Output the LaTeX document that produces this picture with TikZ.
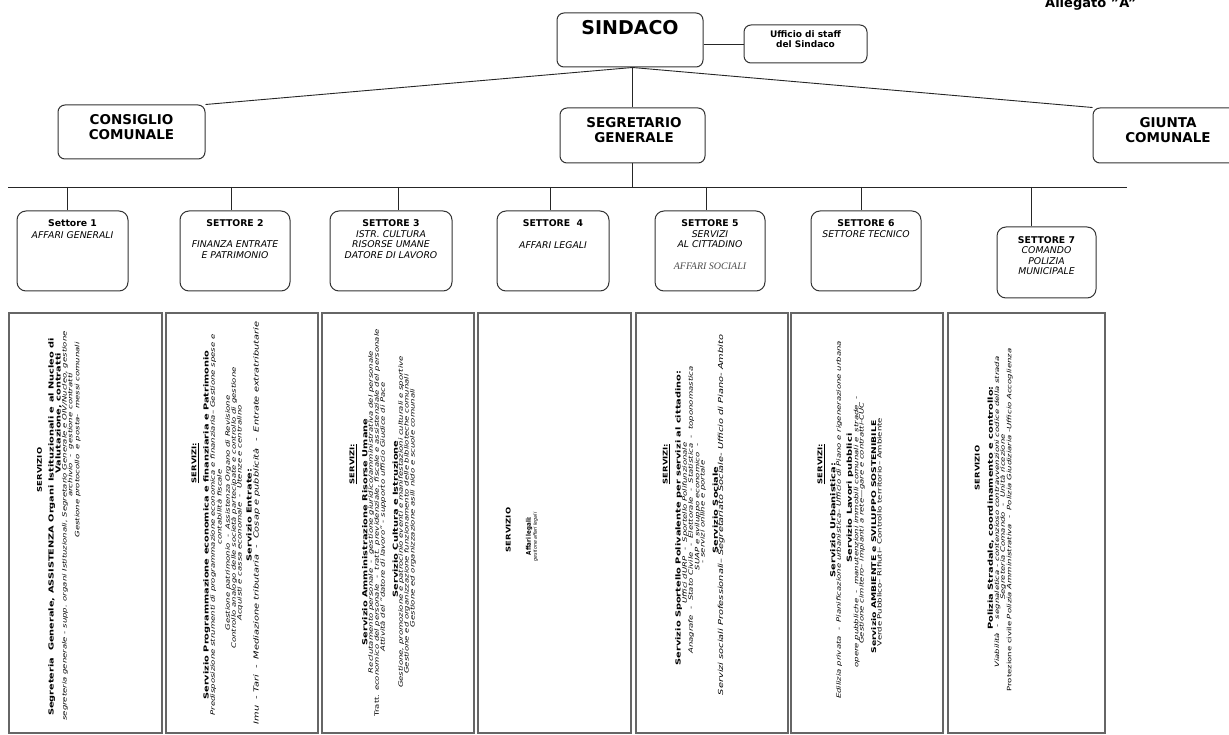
\documentclass[tikz,border=0pt]{standalone}
\usepackage{fontspec}
\setmainfont{DejaVu Sans}
\newfontfamily\serifit{Liberation Serif}
\usepackage{graphicx}
\newcommand{\Sx}[1]{\scalebox{1.42}[1]{#1}}
\newcommand{\Sh}[1]{\scalebox{1.3}[1]{#1}}
\begin{document}
\begin{tikzpicture}[x=1pt,y=-1pt,
  topbox/.style={draw=black!80, line width=1pt, rounded corners=7pt, inner sep=0pt},
  topfont/.style={font=\fontsize{13.5}{15}\selectfont\bfseries, align=center, inner sep=0pt},
  setbox/.style={draw=black!80, line width=1pt, rounded corners=9pt, inner sep=0pt},
  settext/.style={font=\fontsize{9.3}{10.5}\selectfont, align=center, inner sep=0pt, anchor=north},
  svbox/.style={draw=black!60, line width=1.3pt, inner sep=0pt, minimum height=420pt},
  conn/.style={draw=black!85, line width=0.9pt},
  rl/.style={rotate=90, inner sep=0pt, anchor=center},
  hd/.style={rl, font=\fontsize{6.5}{7}\selectfont\bfseries},
  tt/.style={rl, font=\fontsize{6.9}{7.5}\selectfont\bfseries},
  det/.style={rl, font=\fontsize{6}{7}\selectfont\itshape},
  big/.style={rl, font=\fontsize{6.9}{7.5}\selectfont\itshape},
  up/.style={rl, font=\fontsize{6}{7}\selectfont}
]
\useasboundingbox (0,0) rectangle (1229,735);
\clip (0,0) rectangle (1229,735);
\fill[white] (0,0) rectangle (1229,735);

% ---------- top level ----------
\node[font=\fontsize{13}{14}\selectfont\bfseries, anchor=base west, inner sep=0pt] (alleg) at (1045,7.5) {Allegato "A"};

\node[topbox, minimum width=146pt, minimum height=54pt] (sind) at (630,40) {};
\node[font=\fontsize{19}{20}\selectfont\bfseries, inner sep=0pt] (sindt) at (630,28) {SINDACO};
\node[topbox, minimum width=123pt, minimum height=38pt] (uff) at (805.5,44) {};
\node[font=\fontsize{9}{9.5}\selectfont\bfseries, align=center, inner sep=0pt] (ufft) at (805.5,39) {Ufficio di staff\\del Sindaco};

\node[topbox, minimum width=147pt, minimum height=54pt] (cons) at (131.5,132) {};
\node[topfont] (const) at (131.5,127.5) {CONSIGLIO\\COMUNALE};
\node[topbox, minimum width=145pt, minimum height=55pt] (segr) at (632.5,135.5) {};
\node[topfont] (segrt) at (634,130.5) {SEGRETARIO\\GENERALE};
\node[topbox, minimum width=157pt, minimum height=55pt] (giun) at (1171.5,135.5) {};
\node[topfont] (giunt) at (1168,130.5) {GIUNTA\\COMUNALE};

\draw[conn] (sind.east |- uff.west) -- (uff.west);
\draw[conn] (sind.south -| segr.north) -- (cons.north east);
\draw[conn] (sind.south -| segr.north) -- (giun.north west);
\draw[conn] (sind.south -| segr.north) -- (segr.north);

\coordinate (busL) at (8,187);
\coordinate (busR) at (1127,187);
\draw[conn] (busL) -- (busR);
\draw[conn] (segr.south) -- (segr.south |- busL);

% ---------- settori ----------
\node[setbox, minimum width=111pt, minimum height=80pt] (s1) at (72.5,251) {};
\node[setbox, minimum width=110pt, minimum height=80pt] (s2) at (235,251) {};
\node[setbox, minimum width=122pt, minimum height=80pt] (s3) at (391,251) {};
\node[setbox, minimum width=112pt, minimum height=80pt] (s4) at (553,251) {};
\node[setbox, minimum width=110pt, minimum height=80pt] (s5) at (710,251) {};
\node[setbox, minimum width=110pt, minimum height=80pt] (s6) at (866,251) {};
\node[setbox, minimum width=99pt, minimum height=71pt] (s7) at (1046.5,262.5) {};

\node[settext] (s1t) at (72.5,219.5) {\textbf{Settore 1}\\[1pt]\textit{AFFARI GENERALI}};
\node[settext] (s2t) at (235,219.5) {\textbf{SETTORE 2}\\[10.5pt]\textit{FINANZA ENTRATE}\\\textit{E PATRIMONIO}};
\node[settext] (s3t) at (391,219.5) {\textbf{SETTORE 3}\\\textit{ISTR. CULTURA}\\\textit{RISORSE UMANE}\\\textit{DATORE DI LAVORO}};
\node[settext] (s4t) at (553,219.5) {\textbf{SETTORE\ \ 4}\\[11pt]\textit{AFFARI LEGALI}};
\node[settext] (s5t) at (710,219.5) {\textbf{SETTORE 5}\\\textit{SERVIZI}\\\textit{AL CITTADINO}\\[11pt]{\serifit\itshape\fontsize{10}{11}\selectfont\color{black!70}AFFARI SOCIALI}};
\node[settext] (s6t) at (866,219.5) {\textbf{SETTORE 6}\\\textit{SETTORE TECNICO}};
\node[settext] (s7t) at (1046.5,236) {\textbf{SETTORE 7}\\\textit{COMANDO}\\\textit{POLIZIA}\\\textit{MUNICIPALE}};

\coordinate (d1) at (67,187);
\coordinate (d2) at (231,187);
\coordinate (d3) at (398,187);
\coordinate (d4) at (550,187);
\coordinate (d5) at (706,187);
\coordinate (d6) at (861,187);
\coordinate (d7) at (1031,187);
\draw[conn] (d1) -- (d1 |- s1.north);
\draw[conn] (d2) -- (d2 |- s2.north);
\draw[conn] (d3) -- (d3 |- s3.north);
\draw[conn] (d4) -- (d4 |- s4.north);
\draw[conn] (d5) -- (d5 |- s5.north);
\draw[conn] (d6) -- (d6 |- s6.north);
\draw[conn] (d7) -- (d7 |- s7.north);

% ---------- service boxes ----------
\node[svbox, minimum width=153pt] (v1) at (85.5,523) {};
\node[svbox, minimum width=152pt] (v2) at (242,523) {};
\node[svbox, minimum width=152pt] (v3) at (398,523) {};
\node[svbox, minimum width=153pt] (v4) at (554.5,523) {};
\node[svbox, minimum width=152pt] (v5) at (712,523) {};
\node[svbox, minimum width=152pt] (v6) at (867,523) {};
\node[svbox, minimum width=157pt] (v7) at (1026.5,523) {};

% box 1
\node[hd] (v1a) at (39.5,470) {\Sh{SERVIZIO}};
\node[tt] (v1b) at (51.7,527) {\Sx{Segreteria\ \ Generale, ASSISTENZA Organi Istituzionali e al Nucleo di}};
\node[tt] (v1c) at (58.5,413) {\Sx{Valutazione, contratti}};
\node[det] (v1d) at (65,526) {\Sx{segreteria generale - supp. organi Istituzionali, Segretario Generale e OIV/Nucleo, gestione}};
\node[det] (v1e) at (70.7,435) {\Sx{archivio\ \ -\ \ gestione contratti}};
\node[det] (v1f) at (77.7,440) {\Sx{Gestione protocollo\ \ e posta-\ \ messi comunali}};

% box 2
\node[hd] (v2a) at (195,463) {\Sh{\underline{SERVIZI:}}};
\node[tt] (v2b) at (206.7,525) {\Sx{Servizio Programmazione economica e finanziaria e Patrimonio}};
\node[det] (v2c) at (213.3,525) {\Sx{Predisposizione strumenti di programmazione economica e finanziaria– Gestione spese e}};
\node[det] (v2d) at (219.3,507) {\Sx{contabilità fiscale}};
\node[det] (v2e) at (228.3,513) {\Sx{Gestione patrimonio\ \ -\ \ Assistenza Organo di Revisione}};
\node[det] (v2f) at (234,508) {\Sx{Controllo analogo delle società partecipate e controllo di gestione}};
\node[det] (v2g) at (240,513) {\Sx{Acquisti e cassa economale\ \ -\ \ Utenze e centralino}};
\node[tt] (v2h) at (249,515) {\Sx{Servizio Entrate:}};
\node[big] (v2i) at (256.7,523) {\Sx{Imu\ \ - Tari\ \ -\ \ Mediazione tributaria\ \ -\ \ Cosap e pubblicità\ \ -\ \ Entrate extratributarie}};

% box 3
\node[hd] (v3a) at (353,464) {\Sh{\underline{SERVIZI:}}};
\node[tt] (v3b) at (364.7,532) {\Sx{Servizio Amministrazione Risorse Umane}};
\node[det] (v3c) at (371.3,512) {\Sx{Reclutamento personale\ \ -\ \ gestione giuridico/amministrativa del personale}};
\node[det] (v3d) at (377.3,523) {\Sx{{\upshape Tratt.} economico del personale\ \ -\ \ tratt. previdenziale, fiscale e assistenziale del personale}};
\node[det] (v3e) at (383,517) {\Sx{Attività del "datore di lavoro" - supporto ufficio Giudice di Pace}};
\node[tt] (v3f) at (395.3,519) {\Sx{Servizio Cultura e Istruzione}};
\node[det] (v3g) at (401.3,522) {\Sx{Gestione, promozione e patrocinio eventi e manifestazioni culturali e sportive}};
\node[det] (v3h) at (407,524) {\Sx{Gestione ed organizzazione funzionamento delle biblioteche comunali}};
\node[det] (v3i) at (413,508) {\Sx{Gestione ed organizzazione asili nido e scuole comunali}};

% box 4
\node[rl, font=\fontsize{6.5}{7}\selectfont\bfseries] (v4a) at (508.3,530) {\Sh{SERVIZIO}};
\node[rl, font=\fontsize{6.5}{7}\selectfont\bfseries] (v4b) at (529,536) {\scalebox{0.85}[1]{Affari legali:}};
\node[rl, font=\fontsize{5}{6}\selectfont\itshape] (v4c) at (535.5,537) {\scalebox{0.95}[1]{gestione affari legali}};

% box 5
\node[hd] (v5a) at (666.3,464) {\Sh{\underline{SERVIZI:}}};
\node[tt] (v5b) at (678.7,518) {\Sx{Servizio Sportello Polivalente per servizi al cittadino:}};
\node[det] (v5c) at (685.3,523) {\Sx{Uffici dURP\ \ -\ \ Sportello Polifunzionale}};
\node[det] (v5d) at (691.3,510) {\Sx{Anagrafe\ \ -\ \ Stato Civile\ \ -\ \ Elettorale\ \ -\ \ Statistica\ \ -\ \ toponomastica}};
\node[det] (v5e) at (697.7,507) {\Sx{SUAP e sviluppo economico\ \ -}};
\node[det] (v5f) at (703,512) {\Sx{- servizi online e portale}};
\node[tt] (v5g) at (715.3,510) {\Sx{Servizio Sociale}};
\node[big] (v5h) at (721.3,515) {\Sx{Servizi sociali Professionali– Segretariato Sociale- Ufficio di Piano- Ambito}};

% box 6
\node[hd] (v6a) at (821,464) {\Sh{\underline{SERVIZI:}}};
\node[tt] (v6b) at (832.7,520) {\Sx{Servizio Urbanistica:}};
\node[det] (v6c) at (839.3,520) {\Sx{Edilizia privata\ \ -\ \ Pianificazione urbanistica– Ufficio di Piano e rigenerazione urbana}};
\node[tt] (v6d) at (850,498) {\Sx{Servizio Lavori pubblici}};
\node[det] (v6e) at (856.7,532) {\Sx{opere pubbliche\ \ -\ \ manutenzioni immobili comunali e\ \ strade\ \ -}};
\node[det] (v6f) at (862,523) {\Sx{Gestione cimitero– impianti a rete—gare e contratti-CUC}};
\node[rl, font=\fontsize{6.5}{7}\selectfont\bfseries] (v6g) at (873.7,537) {\Sx{Servizio AMBIENTE e SVILUPPO SOSTENIBILE}};
\node[up] (v6h) at (879.3,532) {\Sx{Verde Pubblico– Rifiuti– Controllo territorio– Ambiente}};

% box 7
\node[hd] (v7a) at (977.3,468) {\Sh{SERVIZIO}};
\node[tt] (v7b) at (990.7,508) {\Sx{Polizia Stradale, coordinamento e controllo:}};
\node[det] (v7c) at (997.3,512) {\Sx{Viabilità\ \ -\ \ segnaletica - contenzioso contravvenzioni codice della strada}};
\node[det] (v7d) at (1003,517) {\Sx{Segreteria Comando\ \ -\ \ Unità ricezione}};
\node[det] (v7e) at (1009.7,520) {\Sx{{\upshape Protezione civile} Polizia Amministrativa\ \ -\ \ Polizia Giudiziaria -Ufficio Accoglienza}};
\end{tikzpicture}
\end{document}
